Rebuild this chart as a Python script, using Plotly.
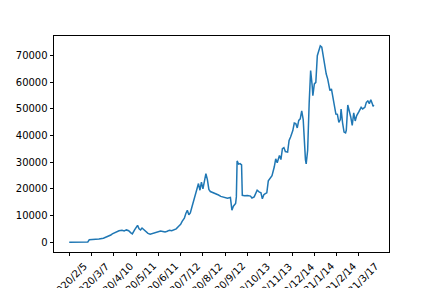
import plotly.graph_objects as go

# data index (day count in series) and value
idx = [0, 25, 27, 35, 40, 46, 50, 53, 56, 58, 61, 64, 67, 71, 74, 77, 80, 83, 85, 88,
       90, 92, 94, 96, 98, 100, 103, 106, 109, 112, 116, 120, 123, 126, 129, 132, 135, 138, 141, 144,
       147, 150, 152, 155, 157, 159, 161, 163, 165, 168, 171, 173, 174, 176, 178, 180, 182, 184, 186, 188,
       190, 193, 197, 201, 204, 206, 209, 213, 217, 219, 221, 224, 225, 226, 228, 230, 232, 233, 236, 240,
       244, 246, 249, 253, 256, 258, 260, 262, 264, 266, 268, 271, 273, 276, 278, 280, 283, 285, 287, 289,
       291, 294, 296, 298, 301, 303, 305, 307, 309, 311, 313, 315, 316, 318, 319, 321, 323, 325, 327, 328,
       330, 332, 334, 336, 338, 340, 342, 343, 346, 348, 351, 353, 355, 357, 359, 361, 363, 365, 366, 368,
       370, 372, 373, 375, 377, 379, 381, 383, 385, 387, 390, 393, 395, 398, 400, 402, 404, 405, 406, 408,
       409, 410]
values = [0, 100, 900, 1000, 1200, 1500, 1900, 2300, 2700, 3100, 3600, 4100, 4300, 4500, 4200, 4600, 4300, 3500, 3100, 4600,
          5500, 6300, 5000, 4600, 5300, 4800, 3900, 3300, 3000, 3200, 3700, 4000, 4200, 4000, 3800, 4100, 4500, 4300, 4700, 5000,
          5900, 6700, 7800, 9000, 10800, 12000, 10300, 11000, 13000, 16000, 19000, 21500, 22000, 19500, 22500, 20000, 23500, 25700, 23500, 19800,
          19000, 18700, 18200, 17700, 17200, 17000, 16700, 16500, 16800, 12000, 13500, 14500, 17000, 30500, 29300, 29500, 29000, 17600, 17400, 17500,
          17300, 16600, 17000, 19500, 18800, 18600, 16300, 17800, 18200, 18500, 23000, 24000, 25000, 28200, 31300, 29800, 32500, 31000, 35100, 35500,
          34000, 33800, 38200, 39500, 41900, 44700, 44500, 42900, 45700, 46300, 49300, 46000, 39000, 31000, 29400, 34500, 52000, 64400, 59000, 55000,
          59400, 60000, 70000, 72500, 73700, 73200, 69400, 68000, 63100, 61200, 56900, 57500, 54500, 52500, 48100, 48000, 45000, 46000, 50000, 44800,
          41300, 41000, 42000, 51500, 49400, 47000, 43800, 48500, 45500, 47500, 49000, 50600, 50000, 50600, 52500, 53000, 52000, 52500, 53500, 52000,
          51000, 51500]

tick_idx = [0, 30, 60, 90, 120, 150, 180, 210, 240, 270, 300, 330, 360, 390]
tick_labels = ["2020/2/5", "2020/3/7", "2020/4/10", "2020/5/11", "2020/6/11", "2020/7/12",
               "2020/8/12", "2020/9/12", "2020/10/13", "2020/11/13", "2020/12/14",
               "2021/1/14", "2021/2/14", "2021/3/17"]
y_ticks = [0, 10000, 20000, 30000, 40000, 50000, 60000, 70000]

FONT = "DejaVu Sans"

fig = go.Figure()
fig.add_trace(go.Scatter(x=idx, y=values, mode="lines",
                         line=dict(color="#1f77b4", width=1.5), showlegend=False))

n_last = max(idx)
pad_x = 0.05 * n_last
ymin, ymax = min(values), max(values)
pad_y = 0.05 * (ymax - ymin)

axis_common = dict(showline=True, linecolor="black", linewidth=0.8, mirror=True,
                   ticks="outside", ticklen=3.5, tickwidth=0.8, tickcolor="black",
                   showgrid=False, zeroline=False,
                   tickfont=dict(family=FONT, size=10, color="black"))

fig.update_xaxes(range=[-pad_x, n_last + pad_x], tickmode="array", tickvals=tick_idx,
                 showticklabels=False, **axis_common)
fig.update_yaxes(range=[ymin - pad_y, ymax + pad_y], tickmode="array", tickvals=y_ticks,
                 ticktext=[str(v) for v in y_ticks], **axis_common)

for t, lab in zip(tick_idx, tick_labels):
    fig.add_annotation(x=t, y=0, xref="x", yref="paper", text=lab, showarrow=False,
                       textangle=-45, xanchor="center", yanchor="top", yshift=-6,
                       font=dict(family=FONT, size=10, color="black"))

fig.update_layout(width=432, height=288, margin=dict(l=54, r=43, t=36, b=36),
                  paper_bgcolor="white", plot_bgcolor="white",
                  font=dict(family=FONT, size=10, color="black"))

fig.write_html("out.html")
